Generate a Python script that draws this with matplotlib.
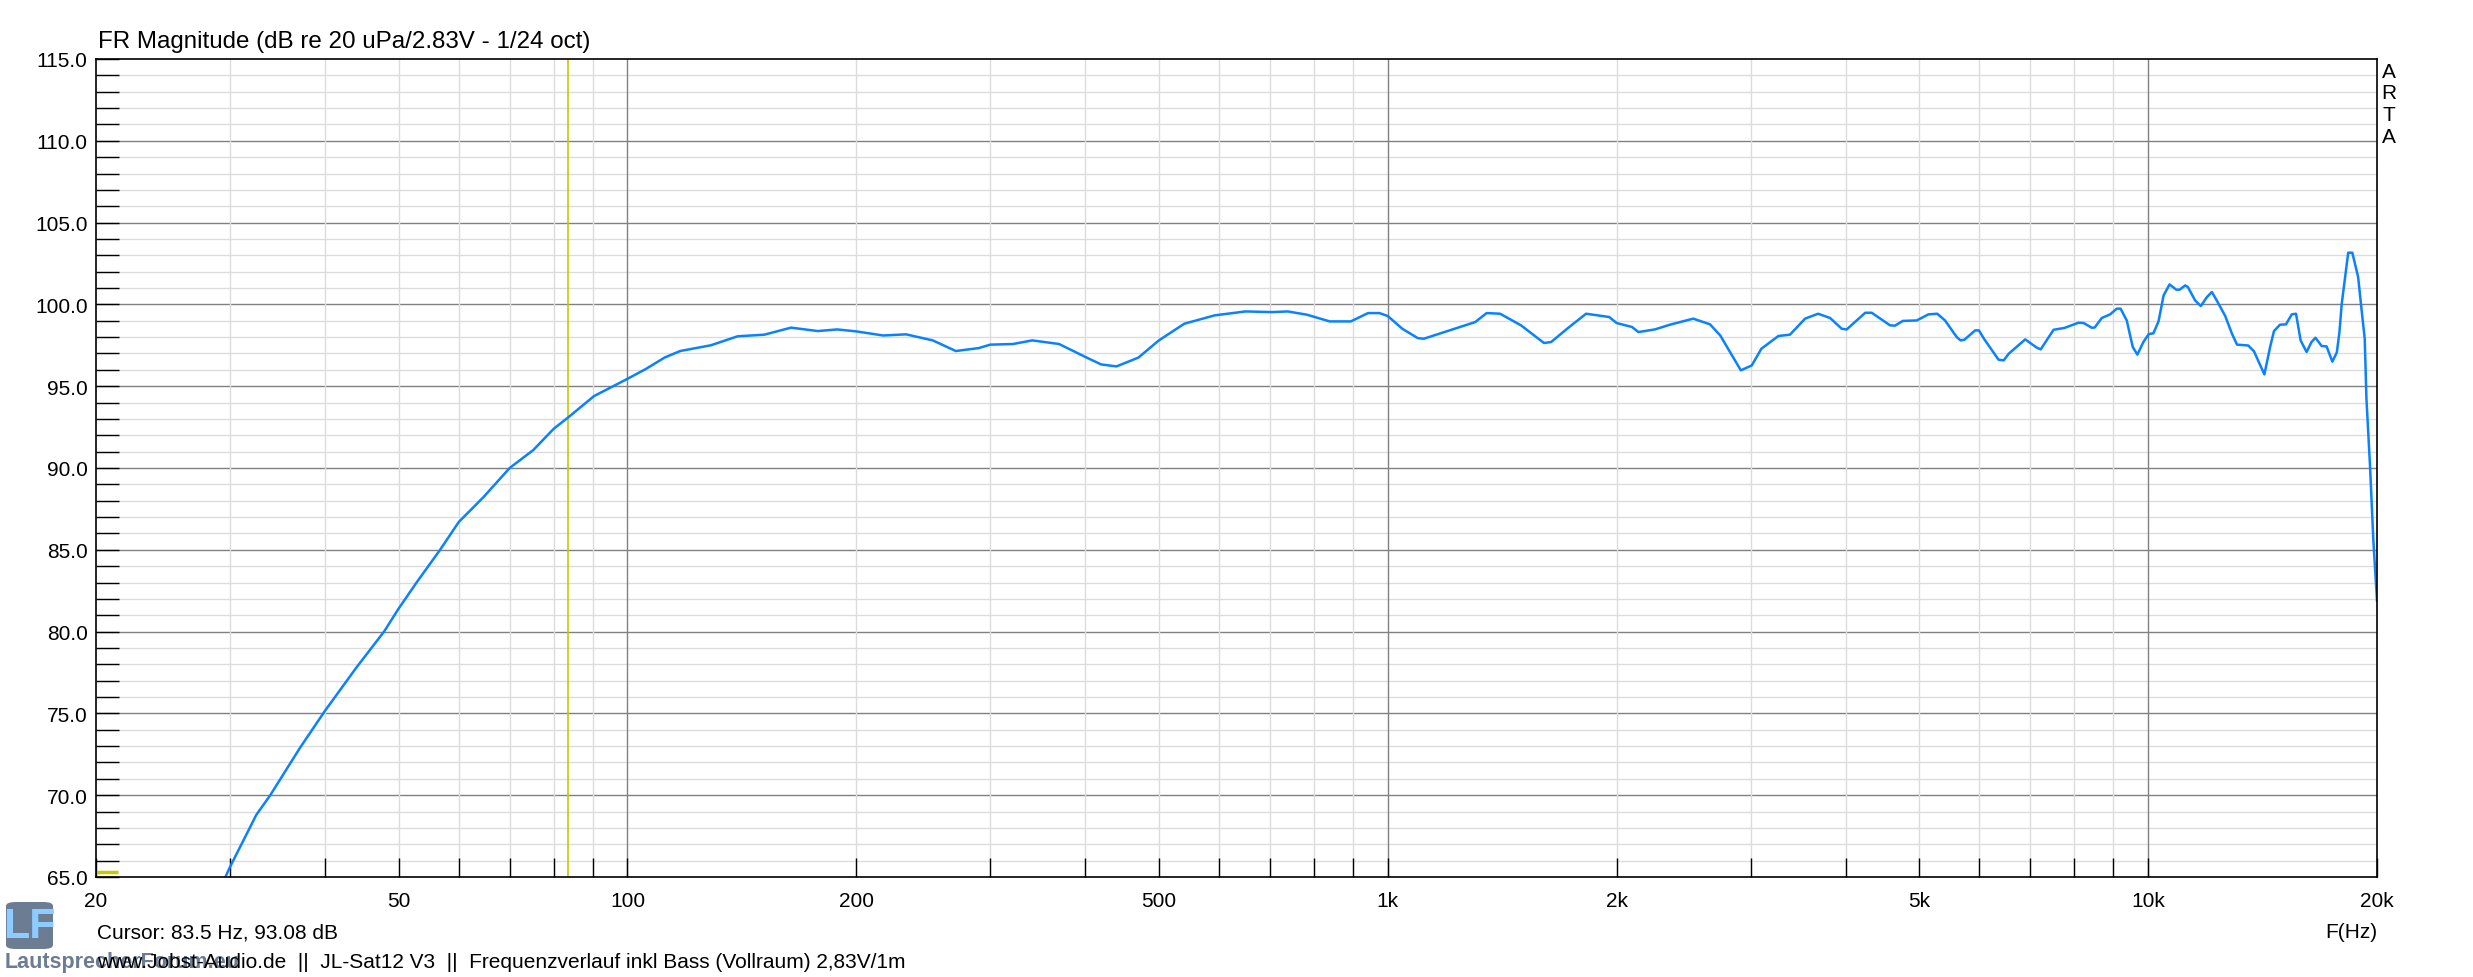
#!/usr/bin/env python
"""ARTA-style frequency response plot (JL-Sat12 V3, incl. bass)."""

import matplotlib
matplotlib.use("Agg")
import matplotlib.pyplot as plt
import numpy as np
from matplotlib.patches import FancyBboxPatch

plt.rcParams["font.family"] = ["Liberation Sans", "DejaVu Sans"]

# --- data ------------------------------------------------------------------
freq_hz = [
    29.6, 30.0, 32.5, 33.9, 37.1, 40.0, 44.0, 47.85, 50.0, 52.8, 56.7, 60.0,
    64.6, 70.0, 75.2, 80.0, 83.5, 90.4, 100, 105.7, 111.9, 117.3, 128.7,
    139.6, 151.4, 164.1, 178.0, 188.7, 200, 216.9, 232.5, 252.1, 270.3,
    289.8, 300, 321.6, 340.7, 369.5, 400.5, 419.8, 439.8, 469.9, 500, 540,
    592, 650, 704.7, 738.6, 782.8, 838.9, 894, 942, 975, 1000, 1045, 1095,
    1115, 1187, 1303, 1349, 1405, 1497, 1605, 1640, 1721, 1823, 1955, 2000,
    2095, 2136, 2245, 2351, 2522, 2654, 2737, 2913, 3011, 3100, 3264, 3380,
    3539, 3681, 3817, 3954, 4014, 4246, 4330, 4577, 4646, 4757, 4963, 5140,
    5281, 5406, 5602, 5667, 5733, 5922, 5991, 6083, 6357, 6457, 6558, 6789,
    6892, 7142, 7223, 7510, 7760, 8099, 8230, 8432, 8507, 8691, 8914, 9093,
    9200, 9373, 9545, 9680, 9858, 10020, 10160, 10320, 10480, 10670, 10890,
    11000, 11190, 11280, 11530, 11730, 11950, 12130, 12310, 12630, 12890,
    13090, 13540, 13780, 14220, 14470, 14640, 14910, 15180, 15450, 15650,
    15870, 16160, 16400, 16600, 16910, 17170, 17470, 17710, 17850, 17970,
    18170, 18330, 18560, 18890, 19080, 19270, 19370, 19580, 19780, 20000,
]
level_db = [
    65.0, 65.6, 68.8, 70.0, 72.9, 75.15, 77.8, 80.0, 81.4, 83.0, 85.0, 86.7,
    88.2, 90.0, 91.1, 92.4, 93.08, 94.4, 95.45, 96.05, 96.75, 97.15, 97.5,
    98.05, 98.15, 98.58, 98.37, 98.47, 98.35, 98.1, 98.17, 97.8, 97.15,
    97.33, 97.54, 97.58, 97.8, 97.58, 96.78, 96.33, 96.21, 96.75, 97.8, 98.82,
    99.33, 99.57, 99.53, 99.57, 99.37, 98.96, 98.96, 99.47, 99.47, 99.29,
    98.51, 97.94, 97.9, 98.31, 98.92, 99.47, 99.43, 98.72, 97.64, 97.7, 98.51,
    99.43, 99.23, 98.86, 98.62, 98.31, 98.47, 98.76, 99.13, 98.78, 98.1,
    95.97, 96.27, 97.29, 98.07, 98.15, 99.13, 99.43, 99.17, 98.51, 98.47,
    99.49, 99.49, 98.72, 98.7, 98.99, 99.02, 99.39, 99.43, 99.02, 98.0, 97.8,
    97.84, 98.41, 98.41, 97.9, 96.62, 96.58, 96.99, 97.6, 97.86, 97.35,
    97.25, 98.45, 98.56, 98.88, 98.86, 98.57, 98.59, 99.17, 99.39, 99.74,
    99.74, 99.02, 97.4, 96.93, 97.7, 98.19, 98.23, 98.96, 100.55, 101.22,
    100.9, 100.9, 101.16, 101.06, 100.24, 99.9, 100.45, 100.76, 100.24,
    99.29, 98.21, 97.54, 97.49, 97.13, 95.72, 97.4, 98.37, 98.76, 98.78,
    99.39, 99.43, 97.8, 97.09, 97.7, 97.96, 97.46, 97.43, 96.5, 97.07, 98.31,
    100.0, 101.77, 103.16, 103.16, 101.67, 99.74, 97.9, 94.24, 90.16, 85.57,
    81.9,
]

cursor_hz = 83.5
cursor_db = 93.08

x_tick_values = [20, 50, 100, 200, 500, 1000, 2000, 5000, 10000, 20000]
x_tick_labels = ["20", "50", "100", "200", "500", "1k", "2k", "5k", "10k", "20k"]
y_tick_values = [65, 70, 75, 80, 85, 90, 95, 100, 105, 110, 115]

title = "FR Magnitude (dB re 20 uPa/2.83V - 1/24 oct)"
footer = ("www.Jobst-Audio.de  ||  JL-Sat12 V3  ||  "
          "Frequenzverlauf inkl Bass (Vollraum) 2,83V/1m")

# --- figure ----------------------------------------------------------------
W, H = 2473, 978
fig = plt.figure(figsize=(W / 100, H / 100), dpi=100)
ax = fig.add_axes([96 / W, 100 / H, 2281 / W, 818 / H])

ax.set_xscale("log")
ax.set_xlim(20, 20000)
ax.set_ylim(65, 115)

# grid lines drawn by hand, ARTA style
light, dark = "#dcdcdc", "#808080"
for db in range(66, 115):
    ax.axhline(db, color=dark if db % 5 == 0 else light, lw=1.0, zorder=1)
for dec in (10, 100, 1000, 10000):
    for m in range(1, 10):
        f = m * dec
        if 20 < f < 20000:
            ax.axvline(f, color=dark if m == 1 else light, lw=1.0, zorder=1)

# cursor
ax.axvline(cursor_hz, color="#c8c800", lw=1.2, zorder=2)
ax.plot([0, 0.0096], [0.006, 0.006], transform=ax.transAxes,
        color="#c8c800", lw=2.5, solid_capstyle="butt", zorder=2)

ax.plot(freq_hz, level_db, color="#0a82ff", lw=1.8, zorder=3,
        solid_joinstyle="round")

# ticks
minor_x = [m * d for d in (10, 100, 1000, 10000) for m in range(1, 10)
           if 20 < m * d < 20000 and m * d not in x_tick_values]
ax.set_xticks(x_tick_values)
ax.set_xticklabels(x_tick_labels)
ax.set_xticks(minor_x, minor=True)
ax.xaxis.set_minor_formatter(plt.NullFormatter())
ax.set_yticks(y_tick_values)
ax.set_yticklabels([f"{v:.1f}" for v in y_tick_values])
ax.set_yticks(np.arange(66, 115), minor=True)

ax.tick_params(axis="x", which="both", direction="in", length=13.5,
               width=1.0, color="black", labelsize=15, pad=10)
ax.tick_params(axis="y", which="both", direction="in", length=16.5,
               width=1.0, color="black", labelsize=15, pad=6)
for sp in ax.spines.values():
    sp.set_color("black")
    sp.set_linewidth(1.2)
    sp.set_zorder(4)

# texts
fig.text(98 / W, 1 - 48 / H, title, fontsize=17.4, va="baseline", ha="left")
fig.text(97 / W, 1 - 933 / H, f"Cursor: {cursor_hz} Hz, {cursor_db:.2f} dB",
         fontsize=15, va="center", ha="left")
fig.text(2377 / W, 1 - 933 / H, "F(Hz)", fontsize=15, va="center", ha="right")
for i, ch in enumerate("ARTA"):
    fig.text(2389 / W, 1 - (72 + 21.7 * i) / H, ch, fontsize=15,
             va="center", ha="center")

# LautsprecherForum logo / watermark
fig.patches.append(FancyBboxPatch((6 / W, 1 - 950 / H), 47 / W, 47 / H,
                                  boxstyle="round,pad=0,rounding_size=0.004",
                                  transform=fig.transFigure, fc="#6b7c93",
                                  ec="none", zorder=1))
fig.text(29.5 / W, 1 - 927 / H, "LF", fontsize=31, fontweight="bold",
         color="#8ecbff", va="center", ha="center")
fig.text(5 / W, 1 - 963 / H, "LautsprecherForum.eu", fontsize=15.5,
         fontweight="bold", color="#6b7c93", va="center", ha="left")
fig.text(97 / W, 1 - 963 / H, footer, fontsize=15, va="center", ha="left")

fig.savefig("out.png", dpi=100, facecolor="white")
